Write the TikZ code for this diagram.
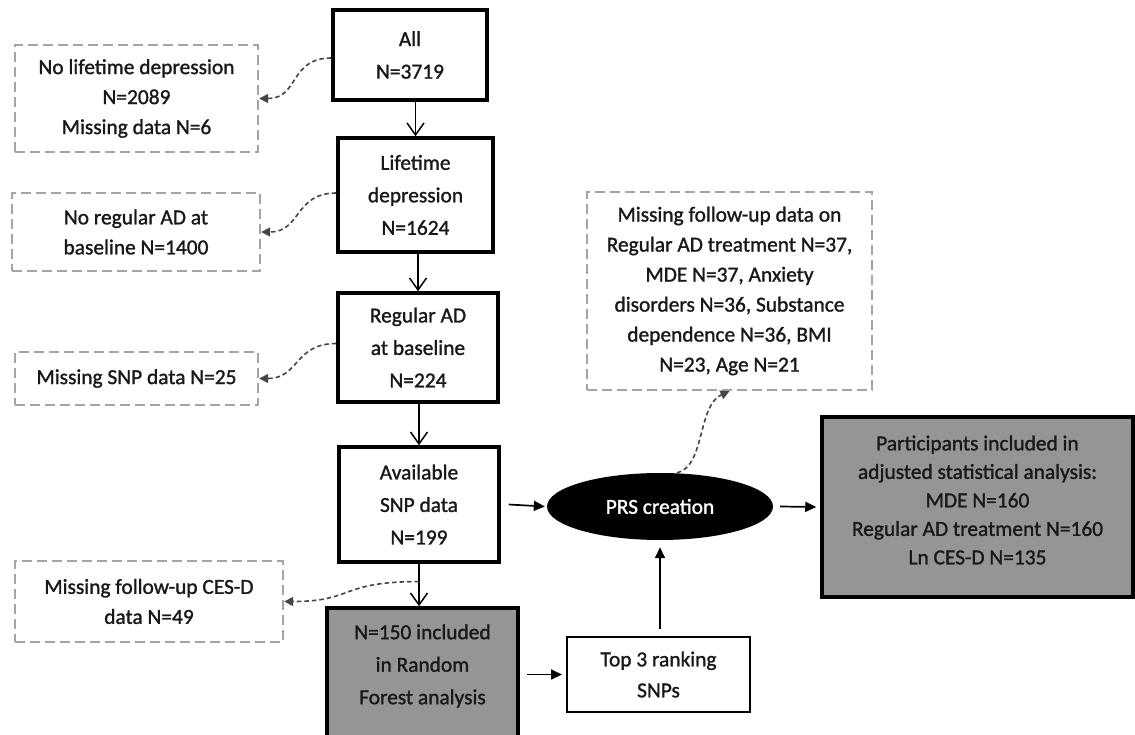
\documentclass[tikz,border=0pt]{standalone}
\usepackage{fontspec}
\setmainfont{Carlito}[FakeBold=1.3]
\usetikzlibrary{arrows.meta,shapes.geometric,calc}
\definecolor{dashgray}{HTML}{A4A4A4}
\definecolor{arrgray}{HTML}{454545}
\definecolor{boxgray}{HTML}{959595}
\begin{document}
\begin{tikzpicture}[x=1pt,y=-1pt,
  txt/.style={align=center,font=\fontsize{21.4}{30}\selectfont,inner sep=0pt,text=black!90},
  mainbox/.style={txt,draw=black,line width=3.5pt,font=\fontsize{21.4}{32.5}\selectfont},
  dbox/.style={txt,draw=dashgray,line width=2.4pt,dash pattern=on 10pt off 5pt},
  gbox/.style={draw=black,line width=3.5pt,fill=boxgray,inner sep=0pt},
  openarr/.style={line width=1.5pt,-{Straight Barb[length=12pt,width=17pt]}},
  solarr/.style={line width=1.7pt,-{Triangle[length=11pt,width=10pt]}},
  darr/.style={arrgray,line width=1.6pt,dash pattern=on 4.5pt off 3pt,-{Triangle[length=9pt,width=9pt]}}
]
\useasboundingbox (0,0) rectangle (1135,735);

% main chain
\node[mainbox,minimum width=154pt,minimum height=90pt] (all) at (410,55) {All\\N=3719};
\node[mainbox,minimum width=155pt,minimum height=114pt] (life) at (415.5,195) {Lifetime\\depression\\N=1624};
\node[mainbox,minimum width=160pt,minimum height=109pt] (regad) at (418,347.5) {Regular AD\\at baseline\\N=224};
\node[mainbox,minimum width=160pt,minimum height=115pt] (avail) at (419,504.5) {Available\\SNP data\\N=199};
\node[gbox,minimum width=191pt,minimum height=137pt] (n150) at (422.5,676.5) {};
\node[txt,font=\fontsize{21.4}{32.5}\selectfont] (n150t) at (422.5,666) {N=150 included\\in Random\\Forest analysis};

% right part
\node[txt,draw=black,line width=2pt,fill=white,minimum width=183pt,minimum height=75pt,font=\fontsize{21.4}{31}\selectfont] (top3) at (658.5,674.5) {Top 3 ranking\\SNPs};
\node[ellipse,fill=black,text=white,minimum width=226pt,minimum height=67pt,inner sep=0pt,font=\fontsize{21.4}{30}\selectfont] (prs) at (660,506.5) {PRS creation};
\node[gbox,minimum width=311pt,minimum height=180pt] (part) at (977.5,507) {};
\node[txt,font=\fontsize{21.4}{28.5}\selectfont] (partt) at (977.5,500) {Participants included in\\adjusted statistical analysis:\\MDE N=160\\Regular AD treatment N=160\\Ln CES-D N=135};

% dashed exclusion boxes
\node[dbox,minimum width=243pt,minimum height=107pt] (nolife) at (136.5,98.5) {No lifetime depression\\N=2089\\Missing data N=6};
\node[dbox,minimum width=248pt,minimum height=78pt] (noreg) at (136,232) {No regular AD at\\baseline N=1400};
\node[dbox,minimum width=243pt,minimum height=53pt] (misssnp) at (136.5,378.5) {Missing SNP data N=25};
\node[dbox,minimum width=268pt,minimum height=81pt] (cesd) at (149,601.5) {Missing follow-up CES-D\\data N=49};
\node[dbox,minimum width=285pt,minimum height=198pt] (missfu) at (729.5,291) {Missing follow-up data on\\Regular AD treatment N=37,\\MDE N=37, Anxiety\\disorders N=36, Substance\\dependence N=36, BMI\\N=23, Age N=21};

% vertical chain arrows
\draw[openarr] (all.south -| life.north) -- (life.north);
\draw[openarr] (life.south -| regad.north) -- (regad.north);
\draw[openarr] (regad.south -| avail.north) -- (avail.north);
\draw[openarr] (avail.south) -- (avail.south |- n150.north);
\coordinate (split) at ($(avail.south)!0.42!(avail.south |- n150.north)$);

% solid arrows
\draw[solarr] ([xshift=8pt]avail.east) -- ([xshift=-2pt]prs.west);
\draw[solarr] ([xshift=7pt]prs.east) -- ([xshift=-4pt]part.west);
\draw[solarr] ([yshift=7pt]top3.north -| prs.south) -- ([yshift=-7pt]prs.south);
\draw[solarr] ($(n150.east |- top3.west)+(7,0)$) -- ([xshift=-4pt]top3.west);

% dashed arrows
\draw[darr] ([yshift=-3pt]all.west) .. controls +(-42,0) and +(40,0) .. (nolife.east);
\draw[darr] ([yshift=2pt]life.west) .. controls +(-42,0) and +(40,0) .. (noreg.east);
\draw[darr] ([yshift=4pt]regad.west) .. controls +(-42,0) and +(40,0) .. (misssnp.east);
\draw[darr] (split) .. controls +(-80,0) and +(70,0) .. (cesd.east);
\draw[darr] ([xshift=17pt]prs.north) .. controls +(28,-6) and +(-32,14) .. (missfu.south);
\end{tikzpicture}
\end{document}
